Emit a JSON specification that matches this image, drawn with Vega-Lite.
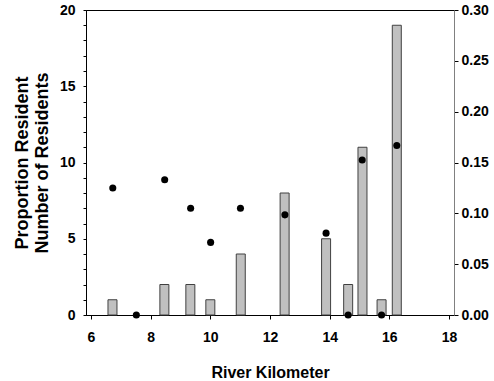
{
  "$schema": "https://vega.github.io/schema/vega-lite/v6.json",
  "autosize": {"type": "none"},
  "width": 368,
  "height": 305,
  "padding": {"left": 86, "top": 10, "right": 40, "bottom": 66},
  "background": "white",
  "config": {
    "view": {"stroke": "black", "strokeWidth": 1},
    "font": "Liberation Sans",
    "axis": {
      "grid": false,
      "domainColor": "black",
      "tickColor": "black",
      "labelFont": "Liberation Sans",
      "labelFontWeight": "bold",
      "labelFontSize": 14,
      "labelColor": "black",
      "titleFont": "Liberation Sans",
      "titleFontWeight": "bold",
      "titleFontSize": 16,
      "titleColor": "black",
      "tickSize": 4
    }
  },
  "datasets": {
    "counts": [
      {"km": 6.72, "residents": 1},
      {"km": 8.46, "residents": 2},
      {"km": 9.33, "residents": 2},
      {"km": 10.0, "residents": 1},
      {"km": 11.02, "residents": 4},
      {"km": 12.49, "residents": 8},
      {"km": 13.88, "residents": 5},
      {"km": 14.62, "residents": 2},
      {"km": 15.1, "residents": 11},
      {"km": 15.74, "residents": 1},
      {"km": 16.25, "residents": 19}
    ],
    "props": [
      {"km": 6.73, "proportion": 0.125},
      {"km": 7.52, "proportion": 0.0},
      {"km": 8.47, "proportion": 0.133},
      {"km": 9.34, "proportion": 0.105},
      {"km": 10.01, "proportion": 0.0714},
      {"km": 11.01, "proportion": 0.105},
      {"km": 12.5, "proportion": 0.0985},
      {"km": 13.88, "proportion": 0.0805},
      {"km": 14.62, "proportion": 0.0},
      {"km": 15.09, "proportion": 0.1525},
      {"km": 15.74, "proportion": 0.0},
      {"km": 16.25, "proportion": 0.1667}
    ]
  },
  "layer": [
    {
      "data": {"name": "counts"},
      "mark": {"type": "bar", "width": 9, "fill": "#c0c0c0", "stroke": "#404040", "strokeWidth": 1},
      "encoding": {
        "x": {
          "field": "km", "type": "quantitative",
          "scale": {"domain": [6, 18], "nice": false, "zero": false},
          "axis": {
            "title": "River Kilometer",
            "values": [6, 7, 8, 9, 10, 11, 12, 13, 14, 15, 16, 17, 18],
            "labelExpr": "datum.value % 2 == 0 ? datum.label : ''",
            "labelPadding": 11,
            "titlePadding": 20
          }
        },
        "y": {
          "field": "residents", "type": "quantitative",
          "scale": {"domain": [0, 20], "nice": false},
          "axis": {
            "title": ["Proportion Resident", "Number of Residents"],
            "titleFontSize": 18,
            "titleLineHeight": 20,
            "titlePadding": 8,
            "values": [0,1,2,3,4,5,6,7,8,9,10,11,12,13,14,15,16,17,18,19,20],
            "labelExpr": "datum.value % 5 == 0 ? datum.label : ''",
            "tickSize": 3,
            "labelPadding": 8
          }
        }
      }
    },
    {
      "data": {"name": "props"},
      "mark": {"type": "point", "filled": true, "color": "black", "size": 50, "opacity": 1, "clip": false},
      "encoding": {
        "x": {"field": "km", "type": "quantitative"},
        "y": {
          "field": "proportion", "type": "quantitative",
          "scale": {"domain": [0, 0.3], "nice": false},
          "axis": {
            "orient": "right",
            "title": null,
            "values": [0, 0.05, 0.1, 0.15, 0.2, 0.25, 0.3],
            "format": ".2f",
            "domainColor": "#808080",
            "labelPadding": 3
          }
        }
      }
    }
  ],
  "resolve": {"scale": {"y": "independent"}}
}
